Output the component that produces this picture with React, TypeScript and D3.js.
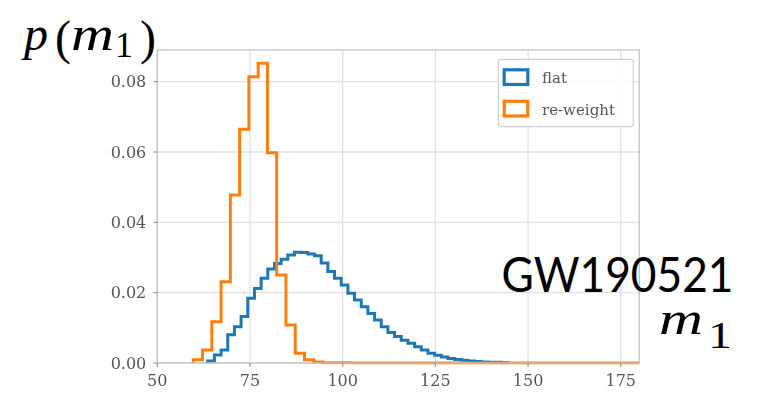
import React from "react";
import * as d3 from "d3";

// Posterior density of the primary mass, two sample sets histogrammed
const flatStart = 63.6;
const flatBinWidth = 1.8;
const flatDensity = [
  0.0006, 0.0023, 0.0037, 0.008, 0.0103, 0.0132, 0.0184, 0.0212, 0.0241, 0.0267,
  0.0283, 0.0295, 0.0307, 0.0315, 0.0314, 0.031, 0.0305, 0.0284, 0.026, 0.0241,
  0.0222, 0.0198, 0.0179, 0.016, 0.0141, 0.0122, 0.0103, 0.0087, 0.0075, 0.0065,
  0.0056, 0.0046, 0.0037, 0.0028, 0.0022, 0.0017, 0.0013, 0.001, 0.0008, 0.0006,
  0.0004, 0.0003, 0.0002, 0.0002, 0.0001,
];

const reweightStart = 59.7;
const reweightBinWidth = 2.5;
const reweightDensity = [
  0.0009, 0.0037, 0.0117, 0.0231, 0.0478, 0.0665, 0.0814, 0.0852, 0.0598, 0.025,
  0.0108, 0.0028, 0.0009, 0.0003, 0.0001, 0.0001, 0.0001, 0, 0, 0,
  0, 0, 0, 0, 0, 0, 0, 0, 0, 0,
  0, 0, 0, 0, 0, 0, 0, 0, 0, 0,
  0, 0, 0, 0, 0, 0, 0, 0, 0, 0,
  0, 0,
];

const xTicks = [50, 75, 100, 125, 150, 175];
const yTicks = [0, 0.02, 0.04, 0.06, 0.08];
const seriesNames = ["flat", "re-weight"];
const seriesColors = ["#1f77b4", "#ff7f0e"];

const W = 766;
const H = 394;
const plot = { left: 157.3, right: 639.3, top: 50, bottom: 363 };

const x = d3.scaleLinear().domain([50, 180]).range([plot.left, plot.right]);
const y = d3.scaleLinear().domain([0, 0.089]).range([plot.bottom, plot.top]);

function stepPath(start: number, width: number, values: number[]): string {
  const pts: [number, number][] = [[start, 0]];
  values.forEach((v, i) => pts.push([start + i * width, v]));
  pts.push([start + values.length * width, 0]);
  const line = d3
    .line<[number, number]>()
    .x((d) => x(d[0]))
    .y((d) => y(d[1]))
    .curve(d3.curveStepAfter);
  return line(pts) || "";
}

const tickFont = "'DejaVu Serif', serif";
const mathFont = "'Liberation Serif', 'Times New Roman', serif";

export default function App() {
  const flatPath = stepPath(flatStart, flatBinWidth, flatDensity);
  const reweightPath = stepPath(reweightStart, reweightBinWidth, reweightDensity);

  return (
    <svg
      width={W}
      height={H}
      viewBox={`0 0 ${W} ${H}`}
      style={{ position: "absolute", left: 0, top: 0, background: "#fff" }}
    >
      <defs>
        <clipPath id="plotArea">
          <rect
            x={plot.left}
            y={plot.top}
            width={plot.right - plot.left}
            height={plot.bottom - plot.top + 1.5}
          />
        </clipPath>
        <filter id="soft" x="-5%" y="-5%" width="110%" height="110%">
          <feGaussianBlur stdDeviation="0.55" />
        </filter>
      </defs>

      <g filter="url(#soft)">
        {/* grid */}
        {xTicks.map((t) => (
          <line
            key={"gx" + t}
            x1={x(t)}
            x2={x(t)}
            y1={plot.top}
            y2={plot.bottom}
            stroke="#e2e2e2"
            strokeWidth={1.3}
          />
        ))}
        {yTicks.map((t) => (
          <line
            key={"gy" + t}
            x1={plot.left}
            x2={plot.right}
            y1={y(t)}
            y2={y(t)}
            stroke="#e2e2e2"
            strokeWidth={1.3}
          />
        ))}

        {/* histograms */}
        <g clipPath="url(#plotArea)" fill="none" strokeWidth={3} strokeLinejoin="miter">
          <path d={flatPath} stroke={seriesColors[0]} />
          <path d={reweightPath} stroke={seriesColors[1]} />
        </g>

        {/* frame */}
        <rect
          x={plot.left}
          y={plot.top}
          width={plot.right - plot.left}
          height={plot.bottom - plot.top}
          fill="none"
          stroke="#c4c4c4"
          strokeWidth={1.3}
        />

        {/* x axis */}
        {xTicks.map((t) => (
          <g key={"xt" + t}>
            <line x1={x(t)} x2={x(t)} y1={plot.bottom} y2={plot.bottom + 4} stroke="#888" strokeWidth={1} />
            <text
              x={x(t)}
              y={plot.bottom + 23}
              textAnchor="middle"
              fontFamily={tickFont}
              fontSize={16}
              fill="#555"
            >
              {t}
            </text>
          </g>
        ))}

        {/* y axis */}
        {yTicks.map((t) => (
          <g key={"yt" + t}>
            <line x1={plot.left - 4} x2={plot.left} y1={y(t)} y2={y(t)} stroke="#888" strokeWidth={1} />
            <text
              x={plot.left - 11}
              y={y(t) + 5.8}
              textAnchor="end"
              fontFamily={tickFont}
              fontSize={16}
              fill="#555"
            >
              {d3.format(".2f")(t)}
            </text>
          </g>
        ))}

        {/* legend */}
        <rect x={498.3} y={59.3} width={135} height={67.4} rx={3} fill="#fff" fillOpacity={0.85} stroke="#d0d0d0" strokeWidth={1.2} />
        {seriesNames.map((name, i) => (
          <g key={name} transform={`translate(0, ${i * 31.5})`}>
            <rect x={504.2} y={69.8} width={23.6} height={14.7} fill="none" stroke={seriesColors[i]} strokeWidth={3.2} />
            <text x={542} y={83} fontFamily={tickFont} fontSize={15} fill="#555">
              {name}
            </text>
          </g>
        ))}
      </g>

      {/* y caption p(m_1) */}
      <g fontFamily={mathFont} fill="#000">
        <text x={24} y={50} fontSize={48} fontStyle="italic">p</text>
        <text x={55} y={54} fontSize={48}>(</text>
        <text x={71} y={50} fontSize={48} fontStyle="italic" textLength={43} lengthAdjust="spacingAndGlyphs">m</text>
        <text x={115} y={56.5} fontSize={35} textLength={18} lengthAdjust="spacingAndGlyphs">1</text>
        <text x={140} y={54} fontSize={48}>)</text>
      </g>

      <text
        x={501.5}
        y={291.7}
        fontFamily="Lato, 'Open Sans', sans-serif"
        fontSize={48}
        fill="#000"
        textLength={232}
        lengthAdjust="spacingAndGlyphs"
      >
        GW190521
      </text>

      {/* x caption m_1 */}
      <g fontFamily={mathFont} fill="#000">
        <text x={659} y={333.5} fontSize={46} fontStyle="italic" textLength={44} lengthAdjust="spacingAndGlyphs">m</text>
        <text x={708} y={348} fontSize={38} textLength={24} lengthAdjust="spacingAndGlyphs">1</text>
      </g>
    </svg>
  );
}
